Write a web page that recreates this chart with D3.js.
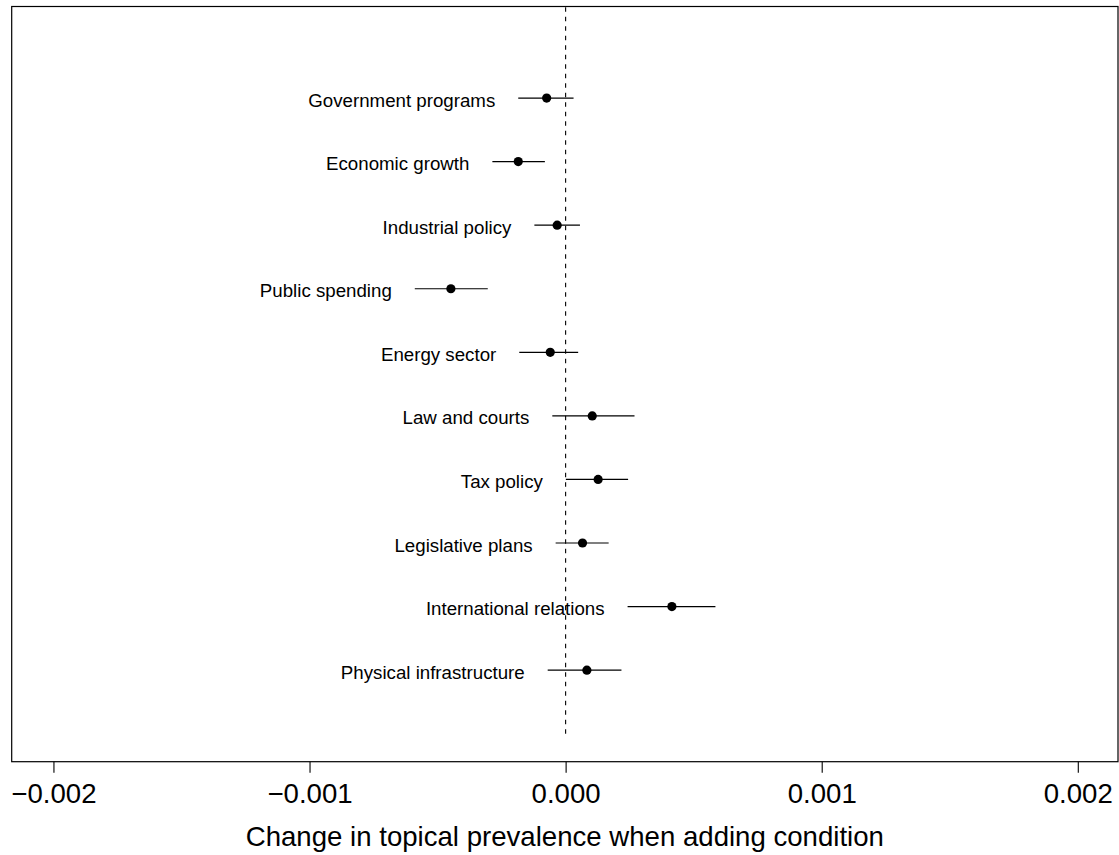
<!DOCTYPE html>
<html>
<head>
<meta charset="UTF-8">
<script src="https://d3js.org/d3.v7.min.js"></script>
<style>
  body { margin: 0; background: #fff; }
  text { font-family: "Liberation Sans", Arial, Helvetica, sans-serif; fill: #000; }
</style>
</head>
<body>
<svg width="1119" height="855"></svg>
<script>
// topics, top to bottom
var topics = ["Government programs", "Economic growth", "Industrial policy", "Public spending",
  "Energy sector", "Law and courts", "Tax policy", "Legislative plans",
  "International relations", "Physical infrastructure"];
// point estimates and 95% intervals
var estimate = [-0.000074, -0.000185, -0.000033, -0.000448, -0.000060, 0.000104, 0.000127, 0.000066, 0.000415, 0.000083];
var lower    = [-0.000185, -0.000286, -0.000122, -0.000589, -0.000181, -0.000052, 0.000001, -0.000039, 0.000242, -0.000070];
var upper    = [ 0.000031, -0.000081,  0.000056, -0.000304,  0.000049,  0.000269, 0.000244,  0.000168, 0.000585,  0.000218];
var xTicks = [-0.002, -0.001, 0, 0.001, 0.002];

var svg = d3.select("svg");
var pLeft = 11.7, pRight = 1118, pTop = 6.5, pBottom = 761.7;

var x = d3.scaleLinear().domain([-0.002163, 0.002157]).range([pLeft, pRight]);
// row positions: 10 at top, 1 at bottom, ylim c(0, 11) with 4% padding
var y = d3.scaleLinear().domain([-0.44, 11.44]).range([pBottom, pTop]);

var rows = topics.map(function(t, i) {
  return { name: t, est: estimate[i], lo: lower[i], hi: upper[i], pos: topics.length - i };
});

// zero reference line
svg.append("line")
  .attr("x1", x(0)).attr("x2", x(0))
  .attr("y1", y(0)).attr("y2", pTop)
  .attr("stroke", "#000").attr("stroke-width", 1.1)
  .attr("stroke-dasharray", "4.5,5");

var g = svg.selectAll(".row").data(rows).enter().append("g").attr("class", "row");

g.append("line")
  .attr("x1", function(d) { return x(d.lo); })
  .attr("x2", function(d) { return x(d.hi); })
  .attr("y1", function(d) { return y(d.pos); })
  .attr("y2", function(d) { return y(d.pos); })
  .attr("stroke", "#000").attr("stroke-width", 1.2);

g.append("circle")
  .attr("cx", function(d) { return x(d.est); })
  .attr("cy", function(d) { return y(d.pos); })
  .attr("r", 4.6)
  .attr("fill", "#000");

g.append("text")
  .attr("x", function(d) { return x(d.lo) - 23; })
  .attr("y", function(d) { return y(d.pos) + 8.5; })
  .attr("text-anchor", "end")
  .attr("font-size", "18.7px")
  .text(function(d) { return d.name; });

// box
svg.append("rect")
  .attr("x", pLeft).attr("y", pTop)
  .attr("width", pRight - pLeft).attr("height", pBottom - pTop)
  .attr("fill", "none").attr("stroke", "#000").attr("stroke-width", 1.2);

// x axis
var axis = svg.append("g").attr("transform", "translate(0," + pBottom + ")")
  .call(d3.axisBottom(x).tickValues(xTicks).tickSize(11).tickFormat(function(d) {
    return d3.format(".3f")(d).replace("-", "\u2212");
  }));
axis.select(".domain").remove();
axis.selectAll(".tick line").attr("stroke", "#000").attr("stroke-width", 1.1);
axis.selectAll(".tick text")
  .attr("font-size", "27.6px")
  .attr("font-family", "'Liberation Sans', Arial, sans-serif")
  .attr("fill", "#000")
  .attr("dy", null)
  .attr("y", 41.5);

svg.append("text")
  .attr("x", (pLeft + pRight) / 2)
  .attr("y", 846)
  .attr("text-anchor", "middle")
  .attr("font-size", "27.6px")
  .text("Change in topical prevalence when adding condition");
</script>
</body>
</html>
